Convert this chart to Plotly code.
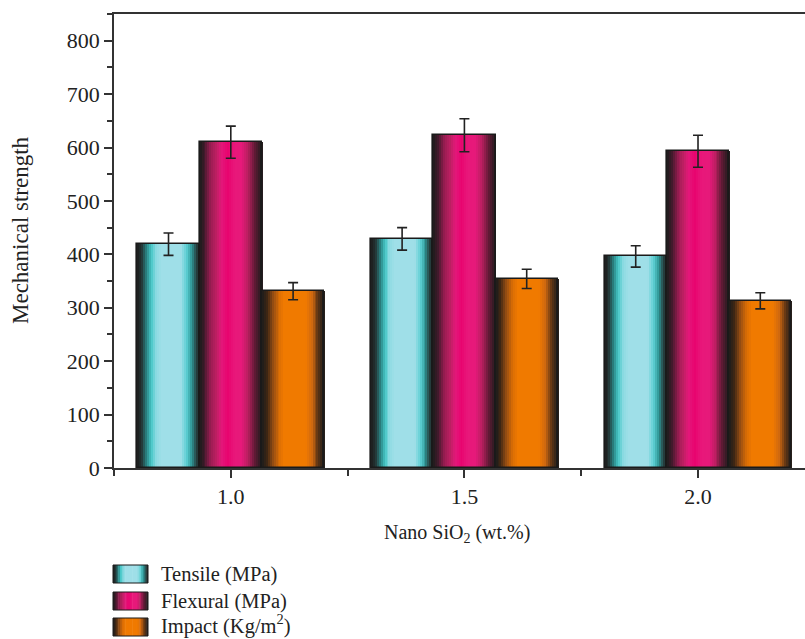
import plotly.graph_objects as go

# ---- data ----
nano_sio2 = [1.0, 1.5, 2.0]
tick_labels = ["1.0", "1.5", "2.0"]

tensile = [419, 429, 396]
tensile_err = [21, 21, 20]
flexural = [610, 623, 593]
flexural_err = [30, 31, 30]
impact = [331, 354, 313]
impact_err = [16, 18, 15]

series_names = ["Tensile (MPa)", "Flexural (MPa)", "Impact (Kg/m<sup>2</sup>)"]

# ---- style ----
FONT = "Liberation Serif"
TEXT = "#222222"
W, H = 805, 639
ML, MR, MT, MB = 114, 0, 14, 171
BAR_W = 0.4 / 3
OFFSETS = [-0.2, -0.2 + BAR_W, -0.2 + 2 * BAR_W]
N_SLICES = 32

# cylindrical shading stops for each series: (position across bar, colour)
STOPS = [
    [(0.0, "#1c1c1c"), (0.07, "#233333"), (0.15, "#2a8585"), (0.22, "#44c6c6"),
     (0.30, "#8cdbe2"), (0.38, "#9fdfe8"), (0.70, "#9fdfe8"), (0.79, "#5ccfd3"),
     (0.87, "#2e9696"), (0.94, "#284545"), (1.0, "#1c1c1c")],
    [(0.0, "#1c1c1c"), (0.08, "#431a2c"), (0.18, "#9a1c52"), (0.27, "#bd1f62"),
     (0.35, "#e3187a"), (0.45, "#e8036f"), (0.56, "#e8187a"), (0.68, "#e6197a"),
     (0.78, "#b81f5f"), (0.89, "#5e1a34"), (1.0, "#1c1c1c")],
    [(0.0, "#1c1c1c"), (0.08, "#3e2614"), (0.18, "#9a4f12"), (0.28, "#dc6e04"),
     (0.36, "#f07a00"), (0.70, "#f07a00"), (0.80, "#cf6810"), (0.90, "#603514"),
     (1.0, "#1c1c1c")],
]


def hex_rgb(h):
    h = h.lstrip("#")
    return tuple(int(h[i:i + 2], 16) for i in (0, 2, 4))


def shade(stops, t):
    for (p0, c0), (p1, c1) in zip(stops, stops[1:]):
        if p0 <= t <= p1:
            f = 0 if p1 == p0 else (t - p0) / (p1 - p0)
            a, b = hex_rgb(c0), hex_rgb(c1)
            return "rgb(%d,%d,%d)" % tuple(round(a[i] + (b[i] - a[i]) * f) for i in range(3))
    return stops[-1][1]


fig = go.Figure()

values = [tensile, flexural, impact]
errors = [tensile_err, flexural_err, impact_err]

# shaded fill: each bar is built from thin vertical strips
for s, (vals, stops, off) in enumerate(zip(values, STOPS, OFFSETS)):
    step = BAR_W / N_SLICES
    for i in range(N_SLICES):
        t = (i + 0.5) / N_SLICES
        fig.add_trace(go.Bar(
            x=nano_sio2, y=vals,
            width=step * 1.35, offset=off + i * step,
            marker=dict(color=shade(stops, t), line=dict(width=0)),
            showlegend=False, hoverinfo="skip",
        ))

# outlines and error bars
for s, (vals, errs, off) in enumerate(zip(values, errors, OFFSETS)):
    fig.add_trace(go.Bar(
        x=nano_sio2, y=vals, name=series_names[s],
        width=BAR_W, offset=off,
        marker=dict(color="rgba(0,0,0,0)", line=dict(color="#1a1a1a", width=1.6)),
        error_y=dict(type="data", array=errs, visible=True,
                     color="#222222", thickness=1.6, width=5),
        showlegend=False,
    ))

plot_w = W - ML - MR
plot_h = H - MT - MB


def px_x(px):
    return (px - ML) / plot_w


def px_y(py):
    return (H - MB - py) / plot_h


shapes = []
annotations = []

# legend with shaded swatches; text centre lines per row
legend_rows = [(565, 583), (592, 610), (618, 636)]
legend_text_y = [574, 601, 624]
for s, (y0, y1) in enumerate(legend_rows):
    x0, x1 = 113, 148
    n = 20
    for i in range(n):
        t = (i + 0.5) / n
        shapes.append(dict(
            type="rect", xref="paper", yref="paper",
            x0=px_x(x0 + (x1 - x0) * i / n),
            x1=px_x(x0 + (x1 - x0) * (i + 1.3) / n if i < n - 1 else x1),
            y0=px_y(y1), y1=px_y(y0),
            fillcolor=shade(STOPS[s], t), line=dict(width=0), layer="above",
        ))
    shapes.append(dict(
        type="rect", xref="paper", yref="paper",
        x0=px_x(x0), x1=px_x(x1), y0=px_y(y1), y1=px_y(y0),
        fillcolor="rgba(0,0,0,0)", line=dict(color="#1a1a1a", width=1), layer="above",
    ))
    annotations.append(dict(
        xref="paper", yref="paper", x=px_x(159), y=px_y(legend_text_y[s]),
        text=series_names[s], showarrow=False, xanchor="left", yanchor="middle",
        font=dict(family=FONT, size=20.5, color=TEXT),
    ))

# axis titles
annotations.append(dict(
    xref="paper", yref="paper", x=px_x(20), y=px_y(230),
    text="Mechanical strength", textangle=-90, showarrow=False,
    xanchor="center", yanchor="middle",
    font=dict(family=FONT, size=23, color=TEXT),
))
annotations.append(dict(
    xref="paper", yref="paper", x=px_x(457), y=px_y(533),
    text="Nano SiO<sub>2</sub> (wt.%)", showarrow=False,
    xanchor="center", yanchor="middle",
    font=dict(family=FONT, size=20, color=TEXT),
))

fig.update_layout(
    width=W, height=H,
    margin=dict(l=ML, r=MR, t=MT, b=MB, autoexpand=False),
    paper_bgcolor="white", plot_bgcolor="white",
    barmode="overlay", bargap=0,
    shapes=shapes, annotations=annotations,
    font=dict(family=FONT, size=21, color=TEXT),
)

fig.update_xaxes(
    range=[0.75, 2.229],
    tickmode="array", tickvals=nano_sio2, ticktext=tick_labels,
    ticks="outside", ticklen=8, tickwidth=1.5, tickcolor="#333333",
    minor=dict(tickmode="array", tickvals=[0.75, 1.25, 1.75, 2.25],
               ticks="outside", ticklen=6, tickwidth=1.5, tickcolor="#333333"),
    showline=True, linecolor="#333333", linewidth=1.6, mirror=True,
    showgrid=False, zeroline=False,
    tickfont=dict(family=FONT, size=22, color=TEXT),
)

fig.update_yaxes(
    range=[0, 850],
    tickmode="linear", tick0=0, dtick=100,
    ticks="outside", ticklen=8, tickwidth=1.5, tickcolor="#333333",
    minor=dict(tick0=0, dtick=50, ticks="outside", ticklen=5,
               tickwidth=1.5, tickcolor="#333333"),
    showline=True, linecolor="#333333", linewidth=1.6,
    showgrid=False, zeroline=False,
    tickfont=dict(family=FONT, size=22, color=TEXT),
)

fig.write_html("out.html")
